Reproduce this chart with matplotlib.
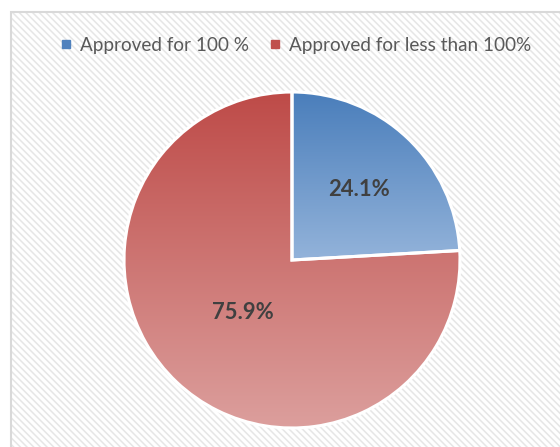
import numpy as np
import matplotlib
matplotlib.use("Agg")
import matplotlib.pyplot as plt
from matplotlib.patches import Rectangle
from matplotlib.lines import Line2D
from matplotlib.colors import LinearSegmentedColormap

categories = ["Approved for 100 %", "Approved for less than 100%"]
values = [24.1, 75.9]
label_dist = [0.58, 0.43]
top_colors = ["#4a7ebb", "#be4b48"]
bottom_colors = ["#93b3da", "#dc9f9d"]
marker_colors = ["#4f81bd", "#c0504d"]

W, H = 560, 447
fig = plt.figure(figsize=(W / 100, H / 100), dpi=100)
fig.patch.set_facecolor("white")

# chart area: grey border with light diagonal stripes
plt.rcParams["hatch.linewidth"] = 1.1
plt.rcParams["hatch.color"] = "#e6e6e6"
area = Rectangle((11 / W, 0 - 0.01), 1.0, 1 - 12 / H + 0.01, transform=fig.transFigure,
                 facecolor="white", edgecolor="#e6e6e6", hatch="\\\\\\\\\\", linewidth=0, zorder=0)
fig.add_artist(area)
border = Rectangle((11 / W, -0.01), 1.0, 1 - 12 / H + 0.01, transform=fig.transFigure,
                   facecolor="none", edgecolor="#d9d9d9", linewidth=1.5, zorder=1)
fig.add_artist(border)

cx, cy, r = 292, 260, 168
ax = fig.add_axes([(cx - r) / W, (H - cy - r) / H, 2 * r / W, 2 * r / H])
ax.axis("off")
ax.patch.set_alpha(0)

wedges, _ = ax.pie(values, startangle=90, counterclock=False, radius=1.0,
                   colors=marker_colors, wedgeprops=dict(edgecolor="white", linewidth=2.2))

# vertical gradient inside each wedge
for w, c0, c1 in zip(wedges, top_colors, bottom_colors):
    path = w.get_path()
    verts = w.get_transform().transform(path.vertices)
    vd = ax.transData.inverted().transform(verts)
    x0, x1 = vd[:, 0].min(), vd[:, 0].max()
    y0, y1 = vd[:, 1].min(), vd[:, 1].max()
    cmap = LinearSegmentedColormap.from_list("g", [c1, c0])
    grad = np.linspace(0, 1, 256).reshape(-1, 1)
    im = ax.imshow(grad, cmap=cmap, extent=[x0, x1, y0, y1], origin="lower",
                   aspect="auto", zorder=w.get_zorder() + 0.1, interpolation="bilinear")
    im.set_clip_path(w)
    w.set_facecolor("none")
    w.set_zorder(w.get_zorder() + 0.2)

ax.set_xlim(-1, 1)
ax.set_ylim(-1, 1)
ax.set_aspect("equal")

# percentage labels at wedge midpoints
start = 90.0
for v, d in zip(values, label_dist):
    mid = np.deg2rad(start - v * 3.6 / 2)
    ax.text(d * np.cos(mid), d * np.sin(mid), f"{v:.1f}%", ha="center", va="center",
            fontsize=15.8, fontweight="bold", color="#404040", family="Lato", zorder=5)
    start -= v * 3.6

handles = [Line2D([], [], marker="s", linestyle="none", markersize=5.5,
                  markerfacecolor=c, markeredgecolor=c) for c in marker_colors]
fig.legend(handles, categories, loc="center", bbox_to_anchor=(296 / W, 1 - 45.5 / H),
           ncol=2, frameon=False, handlelength=0.6, handletextpad=0.45, columnspacing=1.05,
           prop=dict(family="Lato", size=13.6), labelcolor="#595959")

fig.savefig("out.png", dpi=100, facecolor="white")
